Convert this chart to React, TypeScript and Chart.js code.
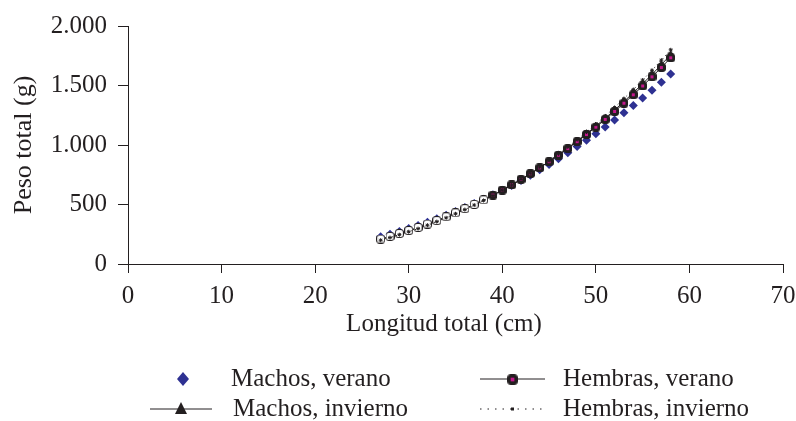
import React, { useEffect, useRef } from 'react';
import { Chart, registerables } from 'chart.js';

Chart.register(...registerables);

const longitudes = [27, 28, 29, 30, 31, 32, 33, 34, 35, 36, 37, 38, 39, 40, 41, 42, 43, 44, 45, 46, 47, 48, 49, 50, 51, 52, 53, 54, 55, 56, 57, 58];
const machosVerano = [228, 250, 274, 298, 324, 351, 380, 410, 441, 474, 509, 544, 581, 620, 660, 702, 746, 791, 837, 885, 935, 987, 1040, 1095, 1151, 1210, 1270, 1332, 1395, 1461, 1528, 1597];
const machosInvierno = [205, 227, 251, 276, 302, 331, 360, 392, 425, 460, 497, 536, 576, 619, 663, 710, 758, 809, 862, 917, 974, 1033, 1095, 1159, 1225, 1294, 1365, 1439, 1515, 1593, 1675, 1759];
const hembrasVerano = [210, 232, 256, 281, 307, 336, 365, 397, 430, 465, 501, 539, 579, 621, 665, 711, 759, 808, 860, 914, 970, 1028, 1088, 1150, 1215, 1282, 1351, 1422, 1496, 1573, 1651, 1733];
const hembrasInvierno = [200, 222, 246, 271, 297, 326, 356, 388, 422, 457, 495, 534, 575, 619, 664, 712, 762, 814, 868, 925, 984, 1045, 1109, 1175, 1244, 1315, 1390, 1466, 1546, 1628, 1713, 1800];
const seriesLabels = ['Machos, verano', 'Machos, invierno', 'Hembras, verano', 'Hembras, invierno'];
const xTitle = 'Longitud total (cm)';
const yTitle = 'Peso total (g)';
const xRange = [0, 70, 10];
const yRange = [0, 2000, 500];

const FONT = "'Liberation Serif', 'Times New Roman', serif";
const INK = '#231f20';
const BLUE = '#2e3192';
const MAGENTA = '#c4168c';

function toPoints(values: number[]) {
  return longitudes.map((x, i) => ({ x, y: values[i] }));
}

function formatThousands(v: number) {
  const s = String(Math.round(v));
  return s.replace(/\B(?=(\d{3})+(?!\d))/g, '.');
}

function squareMarker(filled: boolean) {
  const c = document.createElement('canvas');
  c.width = 9;
  c.height = 9;
  const g = c.getContext('2d')!;
  g.beginPath();
  (g as any).roundRect ? (g as any).roundRect(0.5, 0.5, 8, 8, 2.5) : g.rect(0.5, 0.5, 8, 8);
  g.fillStyle = filled ? INK : '#ffffff';
  g.fill();
  g.lineWidth = 1;
  g.strokeStyle = INK;
  g.stroke();
  if (filled) {
    g.fillStyle = MAGENTA;
    g.fillRect(3, 3, 3, 3);
  }
  return c;
}

export default function App() {
  const ref = useRef<HTMLCanvasElement | null>(null);

  useEffect(() => {
    document.body.style.margin = '0';
    const canvas = ref.current!;
    const blackSq = squareMarker(true);
    const whiteSq = squareMarker(false);

    const legendPlugin = {
      id: 'customLegend',
      afterDraw(chart: any) {
        const ctx = chart.ctx as CanvasRenderingContext2D;
        ctx.save();
        ctx.fillStyle = INK;
        ctx.textBaseline = 'middle';
        ctx.textAlign = 'center';
        ctx.font = `25px ${FONT}`;
        ctx.fillText(xTitle, 444, 324);

        ctx.textAlign = 'left';
        const r1 = 379;
        const r2 = 409;
        // Machos, verano
        ctx.fillStyle = BLUE;
        ctx.beginPath();
        ctx.moveTo(183, r1 - 7);
        ctx.lineTo(189, r1);
        ctx.lineTo(183, r1 + 7);
        ctx.lineTo(177, r1);
        ctx.closePath();
        ctx.fill();
        ctx.fillStyle = INK;
        ctx.fillText(seriesLabels[0], 231, r1);
        // Machos, invierno
        ctx.strokeStyle = INK;
        ctx.lineWidth = 1;
        ctx.beginPath();
        ctx.moveTo(150, r2);
        ctx.lineTo(212, r2);
        ctx.stroke();
        ctx.beginPath();
        ctx.moveTo(181, r2 - 7);
        ctx.lineTo(187, r2 + 5);
        ctx.lineTo(175, r2 + 5);
        ctx.closePath();
        ctx.fill();
        ctx.fillText(seriesLabels[1], 233, r2);
        // Hembras, verano
        ctx.beginPath();
        ctx.moveTo(480, r1);
        ctx.lineTo(545, r1);
        ctx.stroke();
        ctx.drawImage(blackSq, 507, r1 - 5, 11, 11);
        ctx.fillText(seriesLabels[2], 563, r1);
        // Hembras, invierno
        ctx.setLineDash([1.5, 6]);
        ctx.beginPath();
        ctx.moveTo(480, r2);
        ctx.lineTo(545, r2);
        ctx.stroke();
        ctx.setLineDash([]);
        ctx.fillRect(511, r2 - 1.5, 3, 3);
        ctx.fillText(seriesLabels[3], 563, r2);
        ctx.restore();
      },
    };

    const chart = new Chart(canvas, {
      type: 'scatter',
      data: {
        datasets: [
          {
            label: seriesLabels[0],
            data: toPoints(machosVerano),
            showLine: false,
            pointStyle: 'rectRot',
            pointRadius: 4.5,
            backgroundColor: BLUE,
            borderColor: BLUE,
            borderWidth: 0,
            order: 4,
          },
          {
            label: seriesLabels[1],
            data: toPoints(machosInvierno),
            showLine: true,
            borderColor: INK,
            borderWidth: 1,
            pointStyle: 'triangle',
            pointRadius: 4,
            pointBorderWidth: 1,
            pointBorderColor: INK,
            pointBackgroundColor: (c: any) => (c.raw && c.raw.x < 39 ? '#ffffff' : INK),
            order: 3,
          },
          {
            label: seriesLabels[2],
            data: toPoints(hembrasVerano),
            showLine: true,
            borderColor: INK,
            borderWidth: 1,
            pointStyle: (c: any) => (c.raw && c.raw.x < 39 ? whiteSq : blackSq),
            pointRadius: 4.5,
            order: 2,
          },
          {
            label: seriesLabels[3],
            data: toPoints(hembrasInvierno),
            showLine: true,
            borderColor: INK,
            borderWidth: 1,
            borderDash: [1, 3],
            pointStyle: 'star',
            pointRadius: 2,
            pointBorderWidth: 1,
            pointBorderColor: INK,
            pointBackgroundColor: INK,
            order: 1,
          },
        ],
      },
      options: {
        responsive: false,
        animation: false,
        events: [],
        layout: { padding: { left: 0, right: 0, top: 21, bottom: 85 } },
        plugins: {
          legend: { display: false },
          tooltip: { enabled: false },
        },
        scales: {
          x: {
            type: 'linear',
            min: xRange[0],
            max: xRange[1],
            afterFit: (s: any) => {
              s.height = 72;
              s.paddingRight = 13;
            },
            border: { color: INK, width: 1 },
            grid: { drawOnChartArea: false, drawTicks: true, tickLength: 9, color: INK },
            ticks: {
              stepSize: xRange[2],
              color: INK,
              padding: 8,
              font: { family: FONT, size: 25 },
              maxRotation: 0,
            },
            title: { display: false, text: xTitle },
          },
          y: {
            type: 'linear',
            min: yRange[0],
            max: yRange[1],
            afterFit: (s: any) => {
              s.width = 128;
            },
            border: { color: INK, width: 1 },
            grid: { drawOnChartArea: false, drawTicks: true, tickLength: 10, color: INK },
            ticks: {
              stepSize: yRange[2],
              color: INK,
              padding: 11,
              font: { family: FONT, size: 25 },
              callback: (v: any) => formatThousands(Number(v)),
            },
            title: {
              display: true,
              text: yTitle,
              color: INK,
              font: { family: FONT, size: 26 },
              padding: { top: 9, bottom: 0 },
            },
          },
        },
      },
      plugins: [legendPlugin],
    } as any);

    return () => chart.destroy();
  }, []);

  return (
    <div style={{ width: 796, height: 421, background: '#ffffff' }}>
      <canvas ref={ref} width={796} height={421} style={{ display: 'block' }} />
    </div>
  );
}
